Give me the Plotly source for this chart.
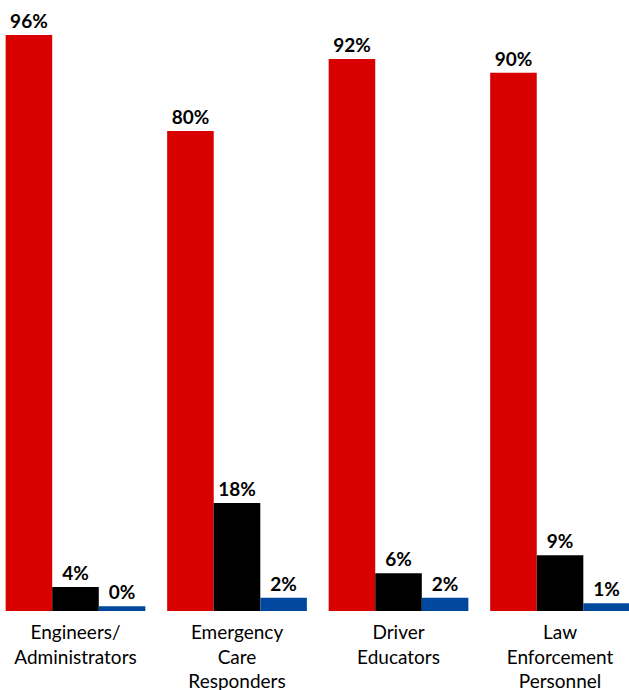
import plotly.graph_objects as go

categories = ["Engineers/<br>Administrators", "Emergency<br>Care<br>Responders",
              "Driver<br>Educators", "Law<br>Enforcement<br>Personnel"]
series_names = ["Series A", "Series B", "Series C"]
values_a = [96, 80, 92, 89.7]
values_b = [4, 18, 6.3, 9.3]
values_c = [0.8, 2.2, 2.2, 1.3]
labels_a = ["96%", "80%", "92%", "90%"]
labels_b = ["4%", "18%", "6%", "9%"]
labels_c = ["0%", "2%", "2%", "1%"]
colors = ["#D90000", "#000000", "#00479E"]

fig = go.Figure()
for name, vals, labs, col in zip(series_names, [values_a, values_b, values_c],
                                 [labels_a, labels_b, labels_c], colors):
    fig.add_trace(go.Bar(
        x=categories, y=vals, name=name, text=labs,
        textposition="outside", cliponaxis=False,
        textfont=dict(family="Lato", size=19, color="#000000", weight="bold"),
        marker=dict(color=col, line=dict(width=0)),
    ))

fig.update_layout(
    width=629, height=690,
    margin=dict(l=0, r=0, t=11, b=79, autoexpand=False),
    barmode="group", bargap=0.135, bargroupgap=0,
    showlegend=False,
    plot_bgcolor="white", paper_bgcolor="white",
    font=dict(family="Lato", color="#000000"),
    xaxis=dict(range=[-0.4675, 3.427], showgrid=False, zeroline=False,
               showline=False, ticks="", ticklabelstandoff=8, automargin=False,
               tickfont=dict(family="Lato", size=19, color="#000000")),
    yaxis=dict(range=[0, 100], visible=False, automargin=False),
)
fig.update_traces(textangle=0)
fig.write_html("out.html")
